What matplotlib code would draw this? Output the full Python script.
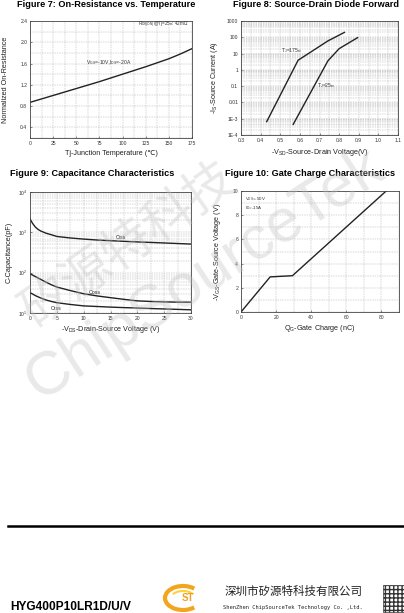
import numpy as np
import matplotlib
matplotlib.use('Agg')
import matplotlib.pyplot as plt
from matplotlib.patches import Arc, Rectangle
from matplotlib.ticker import FixedLocator, MultipleLocator, LogLocator, NullFormatter

plt.rcParams['font.family'] = ['Liberation Sans', 'DejaVu Sans']
plt.rcParams['mathtext.default'] = 'regular'

# Figure 7 data: normalized on-resistance vs junction temperature
temp = [0, 12.5, 25, 37.5, 50, 62.5, 75, 87.5, 100, 112.5, 125, 137.5, 150, 162.5, 175]
rds_norm = [0.87, 0.935, 1.0, 1.065, 1.13, 1.195, 1.26, 1.33, 1.40, 1.47, 1.54, 1.615, 1.69, 1.78, 1.88]

# Figure 8 data: source-drain diode forward
vsd_175 = [0.431, 0.591, 0.743, 0.827]
is_175 = [6.6e-4, 3.9, 60, 200]
vsd_25 = [0.566, 0.743, 0.80, 0.894]
is_25 = [4.5e-4, 3.6, 20, 95]
fig8_yticks = [1e-4, 1e-3, 1e-2, 0.1, 1, 10, 100, 1000]
fig8_ylabels = ['1E-4', '1E-3', '0.01', '0.1', '1', '10', '100', '1000']

# Figure 9 data: capacitance
vds_c = [0, 0.5, 1, 1.5, 2, 3, 4, 5, 7.5, 10, 12.5, 15, 17.5, 20, 22.5, 25, 27.5, 30]
ciss = [2150, 1650, 1350, 1180, 1080, 950, 870, 790, 725, 680, 645, 620, 598, 578, 562, 545, 528, 512]
vds_o = [0, 1, 2, 3, 4, 5, 7.5, 10, 12.5, 15, 17.5, 20, 22.5, 25, 27.5, 30]
coss = [94, 80, 68, 58, 50, 44, 36, 30, 26.5, 24, 21.8, 20, 19.3, 18.8, 18.6, 18.5]
crss = [32, 27, 23.5, 21, 19.3, 18, 16.3, 15, 14.5, 14, 13.6, 13.3, 12.9, 12.6, 12.3, 12]

# Figure 10 data: gate charge
qg = [0, 16.6, 29.3, 82.7]
vgs = [0, 2.9, 3.0, 10]

W, H = 404, 613
fig = plt.figure(figsize=(W / 100, H / 100), dpi=100)

def px_axes(x0, y0, x1, y1):
    return fig.add_axes([x0 / W, 1 - y1 / H, (x1 - x0) / W, (y1 - y0) / H])

def style(ax):
    for s in ax.spines.values():
        s.set_color('#444444')
        s.set_linewidth(0.6)
    ax.tick_params(which='both', direction='in', labelsize=3.6, length=1.5, width=0.4,
                   colors='#333333', pad=2)
    ax.tick_params(which='minor', length=0)
    ax.grid(True, which='both', ls=(0, (3, 2)), lw=0.35, color='#b0b0b0')
    ax.set_axisbelow(True)

lab = dict(fontsize=5.2, color='#222222')
titl = dict(fontsize=6.6, fontweight='bold', color='black')

# ---- Figure 7
ax7 = px_axes(30, 21, 192, 138)
ax7.plot(temp, rds_norm, color='#222222', lw=1.0)
ax7.set_xlim(0, 175)
ax7.set_ylim(0.2, 2.4)
ax7.xaxis.set_major_locator(MultipleLocator(25))
ax7.xaxis.set_minor_locator(MultipleLocator(12.5))
ax7.yaxis.set_major_locator(FixedLocator([0.4, 0.8, 1.2, 1.6, 2.0, 2.4]))
ax7.yaxis.set_minor_locator(MultipleLocator(0.2))
style(ax7)
ax7.set_xlabel('Tj-Junction Temperature (℃)', labelpad=3, **lab)
ax7.set_ylabel('Normalized On-Resistance', labelpad=8, **lab)
ax7.text(85, 1.61, r'V$_{GS}$=-10V,I$_{DS}$=-20A', fontsize=3.6, ha='center', va='center', color='#333333')
ax7.text(171, 2.32, r'R$_{DS(ON)}$@Tj=25℃: 42mΩ', fontsize=3.3, ha='right', va='center', color='#333333')
fig.text(106 / W, 1 - 4.5 / H, 'Figure 7: On-Resistance vs. Temperature', ha='center', va='center', **titl)

# ---- Figure 8
ax8 = px_axes(241, 21, 398, 135)
ax8.semilogy(vsd_175, is_175, color='#222222', lw=1.0)
ax8.semilogy(vsd_25, is_25, color='#222222', lw=1.0)
ax8.set_xlim(0.3, 1.1)
ax8.set_ylim(1e-4, 1000)
ax8.xaxis.set_major_locator(MultipleLocator(0.1))
ax8.xaxis.set_minor_locator(MultipleLocator(0.05))
ax8.xaxis.set_major_formatter(plt.FuncFormatter(lambda v, p: f'{v:.1f}'))
ax8.yaxis.set_major_locator(FixedLocator(fig8_yticks))
ax8.set_yticklabels(fig8_ylabels)
ax8.yaxis.set_minor_locator(LogLocator(base=10, subs=np.arange(2, 10)))
ax8.yaxis.set_minor_formatter(NullFormatter())
style(ax8)
ax8.set_xlabel(r'-V$_{SD}$-Source-Drain Voltage(V)', labelpad=3, **lab)
ax8.set_ylabel(r'-I$_{S}$-Source Current (A)', labelpad=5, **lab)
ax8.text(0.555, 16, 'T$_{J}$=175℃', fontsize=3.6, ha='center', va='center', color='#333333')
ax8.text(0.734, 0.115, 'T$_{J}$=25℃', fontsize=3.6, ha='center', va='center', color='#333333')
fig.text(316 / W, 1 - 4.5 / H, 'Figure 8: Source-Drain Diode Forward', ha='center', va='center', **titl)

# ---- Figure 9
ax9 = px_axes(30, 192, 191, 313)
ax9.semilogy(vds_c, ciss, color='#222222', lw=1.0)
ax9.semilogy(vds_o, coss, color='#222222', lw=1.0)
ax9.semilogy(vds_o, crss, color='#222222', lw=1.0)
ax9.set_xlim(0, 30)
ax9.set_ylim(10, 1e4)
ax9.xaxis.set_major_locator(MultipleLocator(5))
ax9.xaxis.set_minor_locator(MultipleLocator(2.5))
ax9.yaxis.set_major_locator(FixedLocator([10, 100, 1000, 10000]))
ax9.set_yticklabels([r'10$^{1}$', r'10$^{2}$', r'10$^{3}$', r'10$^{4}$'])
ax9.yaxis.set_minor_locator(LogLocator(base=10, subs=np.arange(2, 10)))
ax9.yaxis.set_minor_formatter(NullFormatter())
style(ax9)
ax9.set_xlabel(r'-V$_{DS}$-Drain-Source Voltage (V)', labelpad=2, **lab)
ax9.set_ylabel('C-Capacitance(pF)', labelpad=4, **lab)
ax9.text(17, 760, 'Ciss', fontsize=3.8, ha='center', va='center', color='#222222')
ax9.text(12, 33, 'Coss', fontsize=3.8, ha='center', va='center', color='#222222')
ax9.text(4.8, 13.2, 'Crss', fontsize=3.8, ha='center', va='center', color='#222222')
fig.text(92 / W, 1 - 174 / H, 'Figure 9: Capacitance Characteristics', ha='center', va='center', **titl)

# ---- Figure 10
ax10 = px_axes(241, 191, 399, 312)
ax10.plot(qg, vgs, color='#222222', lw=1.0)
ax10.set_xlim(0, 90)
ax10.set_ylim(0, 10)
ax10.xaxis.set_major_locator(MultipleLocator(20))
ax10.xaxis.set_minor_locator(MultipleLocator(10))
ax10.yaxis.set_major_locator(MultipleLocator(2))
ax10.yaxis.set_minor_locator(MultipleLocator(1))
style(ax10)
ax10.set_xlabel(r'Q$_{G}$-Gate Charge (nC)', labelpad=2, **lab)
ax10.set_ylabel(r'-V$_{GS}$-Gate-Source Voltage (V)', labelpad=7, **lab)
ax10.text(2.5, 9.6, 'V$_{DS}$=-50V\nI$_{D}$=-15A', fontsize=3.2, ha='left', va='top',
          color='#333333', linespacing=1.1)
fig.text(310 / W, 1 - 174 / H, 'Figure 10: Gate Charge Characteristics', ha='center', va='center', **titl)

# ---- overlay: watermark and footer
ov = fig.add_axes([0, 0, 1, 1], zorder=10)
ov.set_xlim(0, W)
ov.set_ylim(H, 0)
ov.axis('off')
ov.patch.set_alpha(0)
ov.text(205, 275, 'ChipSourceTek', fontsize=44, rotation=33, ha='center', va='center',
        color='#c0c0c0', alpha=0.35)
ov.text(128, 245, '矽源特科技', fontsize=36, rotation=35, ha='center', va='center',
        color='#c0c0c0', alpha=0.35, family=['Noto Sans CJK SC', 'DejaVu Sans'])

ov.plot([8, 404], [526, 526], color='black', lw=1.8)
ov.text(10, 607, 'HYG400P10LR1D/U/V', fontsize=8.6, fontweight='bold', ha='left', va='center')
ov.add_patch(Arc((183, 598), 36, 24, theta1=40, theta2=320, color='#f3a51c', lw=3))
ov.add_patch(Arc((183, 598), 24, 14, theta1=200, theta2=340, color='#ffd040', lw=1.5))
ov.text(188, 598, 'ST', fontsize=7, color='#f0a020', ha='center', va='center', fontweight='bold')
ov.text(294, 591, '深圳市矽源特科技有限公司', fontsize=8.3, ha='center', va='center',
        family=['Noto Sans CJK SC', 'DejaVu Sans'], color='#222222')
ov.text(293, 608, 'ShenZhen ChipSourceTek Technology Co. ,Ltd.', fontsize=3.9, ha='center',
        va='center', family='DejaVu Sans Mono', color='#222222')
ov.add_patch(Rectangle((383, 585), 21, 27, facecolor='white', edgecolor='#333333',
                       hatch='++++', lw=0.5))

fig.savefig('out.png', dpi=100)
